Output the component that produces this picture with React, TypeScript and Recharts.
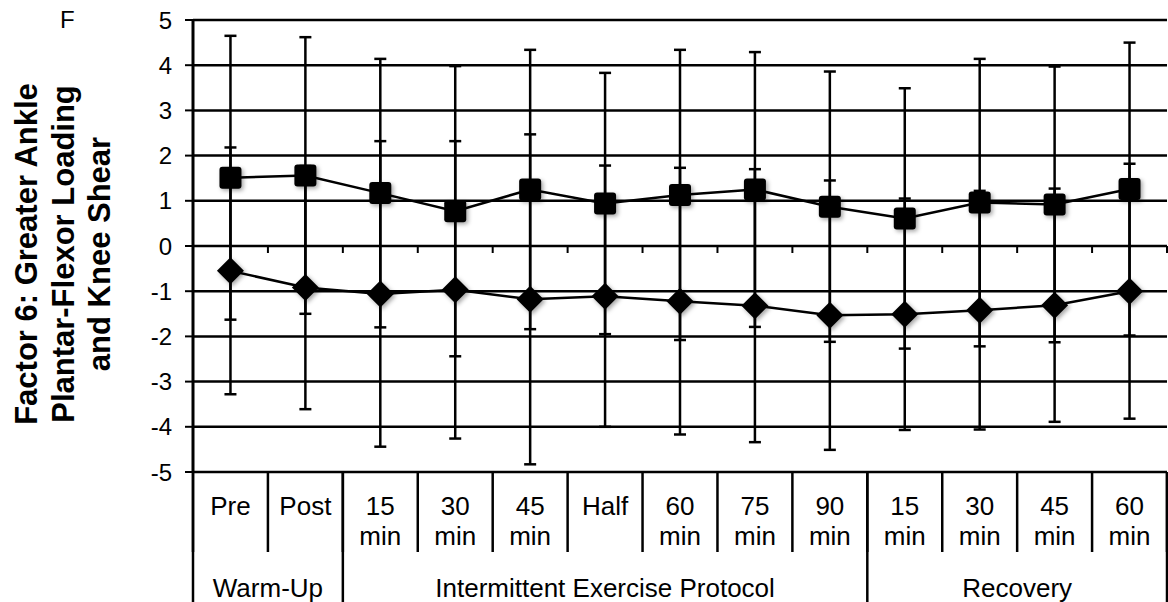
import React from "react"
import { ComposedChart, Line, XAxis, YAxis, CartesianGrid, ErrorBar, Scatter } from "recharts"

const FONT = "'Liberation Sans', Arial, Helvetica, sans-serif"

// table below the plot
const periodTop = ["Pre", "Post", "15", "30", "45", "Half", "60", "75", "90", "15", "30", "45", "60"]
const periodBottom = ["", "", "min", "min", "min", "", "min", "min", "min", "min", "min", "min", "min"]
const groupNames = ["Warm-Up", "Intermittent Exercise Protocol", "Recovery"]
const groupSizes = [2, 7, 4]

// squares (upper series), mean and SD
const squareMean = [1.51, 1.56, 1.17, 0.77, 1.25, 0.94, 1.13, 1.25, 0.87, 0.61, 0.96, 0.92, 1.26]
const squareSd = [3.14, 3.06, 2.97, 3.21, 3.09, 2.89, 3.21, 3.04, 2.99, 2.88, 3.18, 3.05, 3.24]

// diamonds (lower series), mean and SD
const diamondMean = [-0.55, -0.92, -1.06, -0.97, -1.18, -1.11, -1.22, -1.32, -1.53, -1.51, -1.42, -1.31, -1.0]
const diamondSd = [2.73, 2.69, 3.38, 3.29, 3.65, 2.89, 2.95, 3.02, 2.98, 2.56, 2.64, 2.58, 2.82]

const yTicks = [-5, -4, -3, -2, -1, 0, 1, 2, 3, 4, 5]

const rows = periodTop.map((_, i) => ({
  pos: i + 0.5,
  sq: squareMean[i],
  sqSd: squareSd[i],
  di: diamondMean[i],
  diSd: diamondSd[i],
}))

const centers = rows.map((r) => r.pos)
const bounds = [0, ...periodTop.map((_, i) => i + 1)]
const groupBounds = groupSizes.reduce((acc, n) => [...acc, acc[acc.length - 1] + n], [0])
const groupCenters = groupSizes.map((n, i) => groupBounds[i] + n / 2)
const zeroTicks = bounds.slice(1).map((b) => ({ pos: b, zero: 0 }))

const shadow = { filter: "drop-shadow(2px 2px 2px rgba(0,0,0,0.35))" }

function renderSquare(p: any) {
  if (p.cx == null || p.cy == null) return <g key={`sq-${p.index}`} />
  return (
    <rect key={`sq-${p.index}`} x={p.cx - 11} y={p.cy - 11} width={22} height={22} rx={3} fill="#000" style={shadow} />
  )
}

function renderDiamond(p: any) {
  if (p.cx == null || p.cy == null) return <g key={`di-${p.index}`} />
  const r = 13.5
  return (
    <path
      key={`di-${p.index}`}
      d={`M${p.cx},${p.cy - r} L${p.cx + r},${p.cy} L${p.cx},${p.cy + r} L${p.cx - r},${p.cy} Z`}
      fill="#000"
      style={shadow}
    />
  )
}

function renderZeroTick(p: any) {
  return <line x1={p.cx} y1={p.cy} x2={p.cx} y2={p.cy + 7} stroke="#000" strokeWidth={2} />
}

function EmptyTick() {
  return <g />
}

function PeriodTick(props: any) {
  const { x, y, payload } = props
  const i = Math.round(payload.value - 0.5)
  return (
    <g>
      <text x={x} y={y + 40} textAnchor="middle" fontSize={26} fill="#000" fontFamily={FONT}>
        {periodTop[i]}
      </text>
      {periodBottom[i] && (
        <text x={x} y={y + 70} textAnchor="middle" fontSize={26} fill="#000" fontFamily={FONT}>
          {periodBottom[i]}
        </text>
      )}
    </g>
  )
}

function GroupTick(props: any) {
  const { x, y, payload } = props
  const i = groupCenters.indexOf(payload.value)
  return (
    <text x={x} y={y + 123} textAnchor="middle" fontSize={26} fill="#000" fontFamily={FONT}>
      {groupNames[i]}
    </text>
  )
}

function YAxisTitle() {
  const lines = ["Factor 6: Greater Ankle", "Plantar-Flexor Loading", "and Knee Shear"]
  const cy = 254
  return (
    <g>
      <text x={60} y={28} fontSize={24} fill="#000" fontFamily={FONT}>F</text>
      {lines.map((t, i) => {
        const x = 37 + i * 36.5
        return (
          <text
            key={t}
            x={x}
            y={cy}
            transform={`rotate(-90, ${x}, ${cy})`}
            textAnchor="middle"
            fontSize={31}
            fontWeight="bold"
            fill="#000"
            fontFamily={FONT}
          >
            {t}
          </text>
        )
      })}
    </g>
  )
}

export default function App() {
  return (
    <div style={{ position: "absolute", left: 0, top: 0, width: 1168, height: 602, background: "#fff" }}>
      <ComposedChart width={1168} height={602} data={rows} margin={{ top: 20, right: 1, bottom: 0, left: 0 }}>
        <CartesianGrid xAxisId="main" vertical={false} stroke="#000" strokeWidth={2.5} />
        <XAxis
          xAxisId="div"
          type="number"
          dataKey="pos"
          domain={[0, 13]}
          ticks={bounds}
          interval={0}
          height={1}
          axisLine={false}
          tickSize={80}
          tickLine={{ stroke: "#000", strokeWidth: 2.5 }}
          tick={<EmptyTick />}
        />
        <XAxis
          xAxisId="gdiv"
          type="number"
          dataKey="pos"
          domain={[0, 13]}
          ticks={groupBounds}
          interval={0}
          height={1}
          axisLine={false}
          tickSize={129}
          tickLine={{ stroke: "#000", strokeWidth: 2.5 }}
          tick={<EmptyTick />}
        />
        <XAxis
          xAxisId="grp"
          type="number"
          dataKey="pos"
          domain={[0, 13]}
          ticks={groupCenters}
          interval={0}
          height={1}
          axisLine={false}
          tickLine={false}
          tickSize={0}
          tickMargin={0}
          tick={<GroupTick />}
        />
        <XAxis
          xAxisId="main"
          type="number"
          dataKey="pos"
          domain={[0, 13]}
          ticks={centers}
          interval={0}
          height={127}
          axisLine={false}
          tickLine={false}
          tickSize={0}
          tickMargin={0}
          tick={<PeriodTick />}
        />
        <YAxis
          type="number"
          domain={[-5, 5]}
          ticks={yTicks}
          interval={0}
          width={193}
          axisLine={{ stroke: "#000", strokeWidth: 3 }}
          tickLine={{ stroke: "#000", strokeWidth: 2 }}
          tickSize={8}
          tickMargin={13}
          tick={{ fill: "#000", fontSize: 24, fontFamily: FONT }}
          label={<YAxisTitle />}
        />
        <Scatter
          xAxisId="main"
          data={zeroTicks}
          dataKey="zero"
          shape={renderZeroTick}
          isAnimationActive={false}
          legendType="none"
        />
        <Line
          xAxisId="main"
          type="linear"
          dataKey="di"
          stroke="#000"
          strokeWidth={2.5}
          dot={renderDiamond}
          activeDot={false}
          isAnimationActive={false}
        >
          <ErrorBar dataKey="diSd" width={6} stroke="#000" strokeWidth={2.5} direction="y" />
        </Line>
        <Line
          xAxisId="main"
          type="linear"
          dataKey="sq"
          stroke="#000"
          strokeWidth={2.5}
          dot={renderSquare}
          activeDot={false}
          isAnimationActive={false}
        >
          <ErrorBar dataKey="sqSd" width={6} stroke="#000" strokeWidth={2.5} direction="y" />
        </Line>
      </ComposedChart>
    </div>
  )
}
